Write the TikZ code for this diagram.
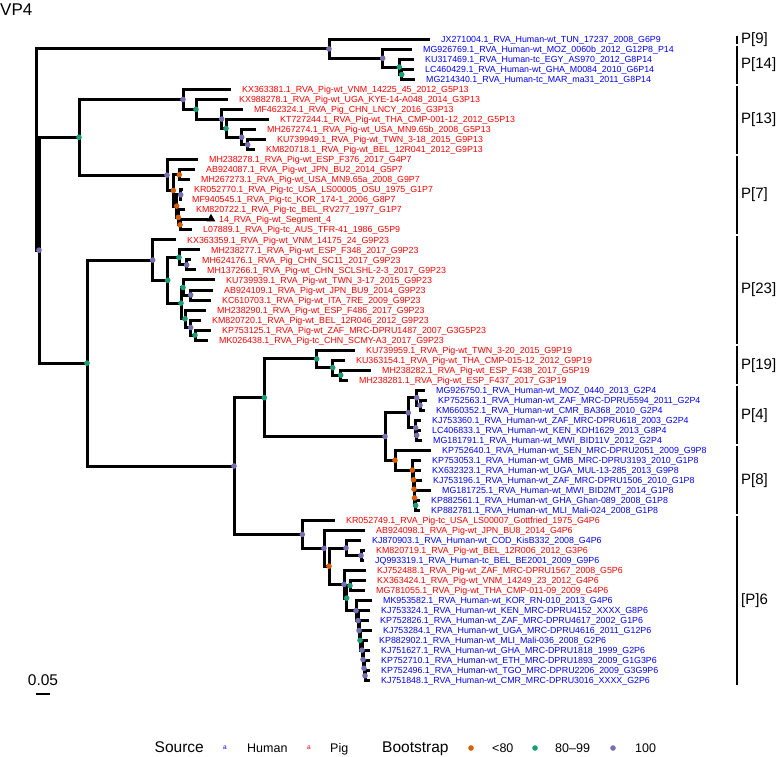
\documentclass[tikz,border=0pt]{standalone}
\usepackage{fontspec}
\setmainfont{Liberation Sans}
\usetikzlibrary{calc, shapes.geometric}
\definecolor{bslow}{HTML}{D95F02}
\definecolor{bsmid}{HTML}{1B9E77}
\definecolor{bshigh}{HTML}{7570B3}
\colorlet{human}{blue}
\colorlet{pig}{red}

\tikzset{
  branch/.style={line width=3pt, black},
  tiplab/.style={anchor=base west, inner sep=0pt, font=\fontsize{8.85}{9}\selectfont},
  cladebar/.style={line width=1.8pt},
  cladelab/.style={anchor=west, inner sep=0pt, font=\fontsize{15}{17}\selectfont},
  legtitle/.style={anchor=base west, inner sep=0pt, font=\fontsize{15.5}{18}\selectfont},
  legitem/.style={anchor=base west, inner sep=0pt, font=\fontsize{12.5}{14}\selectfont},
  legkey/.style={inner sep=0pt, font=\fontsize{6.5}{7}\selectfont},
}

% internal node: name, x, first child, second child
\newcommand{\innode}[4]{%
  \path let \p1=($(#3)!0.5!(#4)$) in coordinate (#1) at (#2pt,\y1);
  \draw[branch] (#1) |- (#3) (#1) |- (#4);
}

\begin{document}
\begin{tikzpicture}[x=1pt, y=-1pt]
    \useasboundingbox (0,0) rectangle (778,756);

    \node[anchor=base west, inner sep=0pt, font=\fontsize{17}{20}\selectfont] (title) at (0,15) {VP4};

    % tips
    \foreach \tx/\col/\lab [count=\i] in {
      430/human/JX271004.1\_RVA\_Human-wt\_TUN\_17237\_2008\_G6P9,
      412/human/MG926769.1\_RVA\_Human-wt\_MOZ\_0060b\_2012\_G12P8\_P14,
      414/human/KU317469.1\_RVA\_Human-tc\_EGY\_AS970\_2012\_G8P14,
      414/human/LC460429.1\_RVA\_Human-wt\_GHA\_M0084\_2010\_G6P14,
      415/human/MG214340.1\_RVA\_Human-tc\_MAR\_ma31\_2011\_G8P14,
      231/pig/KX363381.1\_RVA\_Pig-wt\_VNM\_14225\_45\_2012\_G5P13,
      228/pig/KX988278.1\_RVA\_Pig-wt\_UGA\_KYE-14-A048\_2014\_G3P13,
      243/pig/MF462324.1\_RVA\_Pig\_CHN\_LNCY\_2016\_G3P13,
      269/pig/KT727244.1\_RVA\_Pig-wt\_THA\_CMP-001-12\_2012\_G5P13,
      256/pig/MH267274.1\_RVA\_Pig-wt\_USA\_MN9.65b\_2008\_G5P13,
      266/pig/KU739949.1\_RVA\_Pig-wt\_TWN\_3-18\_2015\_G9P13,
      255/pig/KM820718.1\_RVA\_Pig-wt\_BEL\_12R041\_2012\_G9P13,
      198/pig/MH238278.1\_RVA\_Pig-wt\_ESP\_F376\_2017\_G4P7,
      195/pig/AB924087.1\_RVA\_Pig-wt\_JPN\_BU2\_2014\_G5P7,
      190/pig/MH267273.1\_RVA\_Pig-wt\_USA\_MN9.65a\_2008\_G9P7,
      183/pig/KR052770.1\_RVA\_Pig-tc\_USA\_LS00005\_OSU\_1975\_G1P7,
      181/pig/MF940545.1\_RVA\_Pig-tc\_KOR\_174-1\_2006\_G8P7,
      185/pig/KM820722.1\_RVA\_Pig-tc\_BEL\_RV277\_1977\_G1P7,
      208/pig/14\_RVA\_Pig-wt\_Segment\_4,
      192/pig/L07889.1\_RVA\_Pig-tc\_AUS\_TFR-41\_1986\_G5P9,
      176/pig/KX363359.1\_RVA\_Pig-wt\_VNM\_14175\_24\_G9P23,
      200/pig/MH238277.1\_RVA\_Pig-wt\_ESP\_F348\_2017\_G9P23,
      191/pig/MH624176.1\_RVA\_Pig\_CHN\_SC11\_2017\_G9P23,
      196/pig/MH137266.1\_RVA\_Pig-wt\_CHN\_SCLSHL-2-3\_2017\_G9P23,
      215/pig/KU739939.1\_RVA\_Pig-wt\_TWN\_3-17\_2015\_G9P23,
      213/pig/AB924109.1\_RVA\_Pig-wt\_JPN\_BU9\_2014\_G9P23,
      211/pig/KC610703.1\_RVA\_Pig-wt\_ITA\_7RE\_2009\_G9P23,
      206/pig/MH238290.1\_RVA\_Pig-wt\_ESP\_F486\_2017\_G9P23,
      201/pig/KM820720.1\_RVA\_Pig-wt\_BEL\_12R046\_2012\_G9P23,
      211/pig/KP753125.1\_RVA\_Pig-wt\_ZAF\_MRC-DPRU1487\_2007\_G3G5P23,
      208/pig/MK026438.1\_RVA\_Pig-tc\_CHN\_SCMY-A3\_2017\_G9P23,
      355/pig/KU739959.1\_RVA\_Pig-wt\_TWN\_3-20\_2015\_G9P19,
      345/pig/KU363154.1\_RVA\_Pig-wt\_THA\_CMP-015-12\_2012\_G9P19,
      371/pig/MH238282.1\_RVA\_Pig-wt\_ESP\_F438\_2017\_G5P19,
      348/pig/MH238281.1\_RVA\_Pig-wt\_ESP\_F437\_2017\_G3P19,
      425/human/MG926750.1\_RVA\_Human-wt\_MOZ\_0440\_2013\_G2P4,
      427/human/KP752563.1\_RVA\_Human-wt\_ZAF\_MRC-DPRU5594\_2011\_G2P4,
      425/human/KM660352.1\_RVA\_Human-wt\_CMR\_BA368\_2010\_G2P4,
      421/human/KJ753360.1\_RVA\_Human-wt\_ZAF\_MRC-DPRU618\_2003\_G2P4,
      421/human/LC406833.1\_RVA\_Human-wt\_KEN\_KDH1629\_2013\_G8P4,
      422/human/MG181791.1\_RVA\_Human-wt\_MWI\_BID11V\_2012\_G2P4,
      431/human/KP752640.1\_RVA\_Human-wt\_SEN\_MRC-DPRU2051\_2009\_G9P8,
      421/human/KP753053.1\_RVA\_Human-wt\_GMB\_MRC-DPRU3193\_2010\_G1P8,
      421/human/KX632323.1\_RVA\_Human-wt\_UGA\_MUL-13-285\_2013\_G9P8,
      422/human/KJ753196.1\_RVA\_Human-wt\_ZAF\_MRC-DPRU1506\_2010\_G1P8,
      431/human/MG181725.1\_RVA\_Human-wt\_MWI\_BID2MT\_2014\_G1P8,
      420/human/KP882561.1\_RVA\_Human-wt\_GHA\_Ghan-089\_2008\_G1P8,
      420/human/KP882781.1\_RVA\_Human-wt\_MLI\_Mali-024\_2008\_G1P8,
      335/pig/KR052749.1\_RVA\_Pig-tc\_USA\_LS00007\_Gottfried\_1975\_G4P6,
      365/pig/AB924098.1\_RVA\_Pig-wt\_JPN\_BU8\_2014\_G4P6,
      361/human/KJ870903.1\_RVA\_Human-wt\_COD\_KisB332\_2008\_G4P6,
      365/pig/KM820719.1\_RVA\_Pig-wt\_BEL\_12R006\_2012\_G3P6,
      364/human/JQ993319.1\_RVA\_Human-tc\_BEL\_BE2001\_2009\_G9P6,
      366/pig/KJ752488.1\_RVA\_Pig-wt\_ZAF\_MRC-DPRU1567\_2008\_G5P6,
      366/pig/KX363424.1\_RVA\_Pig-wt\_VNM\_14249\_23\_2012\_G4P6,
      365/pig/MG781055.1\_RVA\_Pig-wt\_THA\_CMP-011-09\_2009\_G4P6,
      372/human/MK953582.1\_RVA\_Human-wt\_KOR\_RN-010\_2013\_G4P6,
      370/human/KJ753324.1\_RVA\_Human-wt\_KEN\_MRC-DPRU4152\_XXXX\_G8P6,
      369/human/KP752826.1\_RVA\_Human-wt\_ZAF\_MRC-DPRU4617\_2002\_G1P6,
      372/human/KJ753284.1\_RVA\_Human-wt\_UGA\_MRC-DPRU4616\_2011\_G12P6,
      368/human/KP882902.1\_RVA\_Human-wt\_MLI\_Mali-036\_2008\_G2P6,
      370/human/KJ751627.1\_RVA\_Human-wt\_GHA\_MRC-DPRU1818\_1999\_G2P6,
      370/human/KP752710.1\_RVA\_Human-wt\_ETH\_MRC-DPRU1893\_2009\_G1G3P6,
      370/human/KP752496.1\_RVA\_Human-wt\_TGO\_MRC-DPRU2206\_2009\_G3G9P6,
      370/human/KJ751848.1\_RVA\_Human-wt\_CMR\_MRC-DPRU3016\_XXXX\_G2P6} {
      \coordinate (t\i) at (\tx, {39.5+10.02*(\i-1)});
      \node[tiplab, text=\col] (lab\i) at ([xshift=11pt, yshift=-3.1pt]t\i) {\lab};
    }

    % P[9] and P[14]
    \innode{p14c}{401.7}{t4}{t5}
    \innode{p14b}{399.3}{t3}{p14c}
    \innode{p14a}{382.7}{t2}{p14b}
    \innode{p9x14}{329}{t1}{p14a}
    % P[13]
    \innode{p13f}{247.7}{t11}{t12}
    \innode{p13e}{241.7}{t10}{p13f}
    \innode{p13d}{226}{t9}{p13e}
    \innode{p13c}{221.7}{t8}{p13d}
    \innode{p13b}{196}{t7}{p13c}
    \innode{p13a}{183}{t6}{p13b}
    % P[7]
    \innode{p7g}{180}{t19}{t20}
    \innode{p7f}{178.3}{t18}{p7g}
    \innode{p7e}{180.7}{t16}{t17}
    \innode{p7d}{176.7}{p7e}{p7f}
    \innode{p7c}{179.3}{t14}{t15}
    \innode{p7b}{173.3}{p7c}{p7d}
    \innode{p7a}{167}{t13}{p7b}
    \innode{p13x7}{79}{p13a}{p7a}
    % P[23]
    \innode{p23j}{195}{t30}{t31}
    \innode{p23i}{190.7}{t29}{p23j}
    \innode{p23h}{185}{t28}{p23i}
    \innode{p23g}{190.7}{t26}{t27}
    \innode{p23f}{183}{t25}{p23g}
    \innode{p23e}{181}{p23f}{p23h}
    \innode{p23d}{186.7}{t23}{t24}
    \innode{p23c}{179}{t22}{p23d}
    \innode{p23b}{167.7}{p23c}{p23e}
    \innode{p23a}{152.7}{t21}{p23b}
    % P[19], P[4], P[8]
    \innode{p19c}{340.7}{t34}{t35}
    \innode{p19b}{332.7}{t33}{p19c}
    \innode{p19a}{316.7}{t32}{p19b}
    \innode{p4c}{420}{t37}{t38}
    \innode{p4b}{416.7}{t36}{p4c}
    \innode{p4e}{416.7}{t40}{t41}
    \innode{p4d}{415.7}{t39}{p4e}
    \innode{p4a}{408.3}{p4b}{p4d}
    \innode{p8f}{415.7}{t47}{t48}
    \innode{p8e}{414.5}{t46}{p8f}
    \innode{p8d}{414}{t45}{p8e}
    \innode{p8c}{413.5}{t44}{p8d}
    \innode{p8b}{412.3}{t43}{p8c}
    \innode{p8a}{395}{t42}{p8b}
    \innode{p4x8}{385}{p4a}{p8a}
    \innode{p19x8}{264.3}{p19a}{p4x8}
    % P[6]
    \innode{p6p}{365}{t64}{t65}
    \innode{p6o}{364}{t63}{p6p}
    \innode{p6n}{363}{t62}{p6o}
    \innode{p6m}{362}{t61}{p6n}
    \innode{p6l}{360}{t60}{p6m}
    \innode{p6k}{359}{t59}{p6l}
    \innode{p6j}{358}{t58}{p6k}
    \innode{p6i}{356}{t57}{p6j}
    \innode{p6h}{350}{t55}{t56}
    \innode{p6g}{346.7}{p6h}{p6i}
    \innode{p6f}{344}{t54}{p6g}
    \innode{p6e}{361}{t52}{t53}
    \innode{p6d}{346}{t51}{p6e}
    \innode{p6c}{329}{p6d}{p6f}
    \innode{p6b}{324}{t50}{p6c}
    \innode{p6a}{302.3}{t49}{p6b}
    % backbone
    \innode{p19x6}{234}{p19x8}{p6a}
    \innode{lower}{87}{p23a}{p19x6}
    \innode{ingrp}{39}{p13x7}{lower}
    \innode{root}{36}{p9x14}{ingrp}

    \node[regular polygon, regular polygon sides=3, fill=black, inner sep=0pt, minimum size=10pt] (seg4) at ([xshift=3pt, yshift=1pt]t19) {};

    % bootstrap support
    \foreach \n/\c in {ingrp/bshigh, p9x14/bshigh, p14a/bshigh, p14b/bsmid, p14c/bsmid,
      p13x7/bsmid, p13a/bshigh, p13b/bsmid, p13c/bshigh, p13d/bsmid, p13e/bshigh, p13f/bshigh,
      p7a/bshigh, p7b/bslow, p7c/bslow, p7d/bslow, p7e/bshigh, p7f/bslow, p7g/bslow,
      lower/bsmid, p23a/bshigh, p23b/bsmid, p23c/bsmid, p23d/bshigh, p23e/bsmid, p23f/bsmid,
      p23g/bshigh, p23h/bsmid, p23i/bshigh, p23j/bsmid,
      p19x6/bshigh, p19x8/bsmid, p19a/bsmid, p19b/bsmid, p19c/bsmid,
      p4x8/bshigh, p4a/bshigh, p4b/bshigh, p4c/bshigh, p4d/bshigh, p4e/bshigh,
      p8a/bslow, p8b/bslow, p8c/bslow, p8d/bslow, p8e/bslow, p8f/bsmid,
      p6a/bshigh, p6b/bshigh, p6c/bslow, p6d/bshigh, p6e/bshigh, p6f/bshigh, p6g/bsmid,
      p6h/bsmid, p6i/bshigh, p6j/bshigh, p6k/bshigh, p6l/bsmid, p6m/bshigh, p6n/bshigh,
      p6o/bshigh, p6p/bshigh}
      \fill[\c] (\n) circle (2.8pt);

    % clade bars
    \foreach \a/\b/\lab in {1/1/P[9], 2/5/P[14], 6/12/P[13], 13/20/P[7], 21/31/P[23],
      32/35/P[19], 36/41/P[4], 42/48/P[8], 49/65/[P]6} {
      \draw[cladebar] (737,{39.5+10.02*(\a-1)-4}) -- (737,{39.5+10.02*(\b-1)+4});
      \node[cladelab] (clade\a) at (741,{39.5+10.02*(\a+\b-2)/2}) {\lab};
    }

    % scale bar
    \coordinate (sbl) at (36,694);
    \coordinate (sbr) at (50,694);
    \draw[line width=1.8pt] (sbl) -- (sbr);
    \node[anchor=base, inner sep=0pt, font=\fontsize{15.5}{18}\selectfont] (sblab) at (43,685) {0.05};

    % legend
    \node[legtitle, anchor=base east] (srctitle) at (204,752.5) {Source};
    \node[legkey, text=human] (keyhum) at (225,748) {a};
    \node[legitem] (labhum) at (247,752.5) {Human};
    \node[legkey, text=pig] (keypig) at (309,748) {a};
    \node[legitem] (labpig) at (330,752.5) {Pig};
    \node[legtitle] (bstitle) at (382,752.5) {Bootstrap};
    \fill[bslow] (471,748) circle (2.8pt);
    \node[legitem] (lablow) at (492,752.5) {<80};
    \fill[bsmid] (535,748) circle (2.8pt);
    \node[legitem] (labmid) at (555,752.5) {80--99};
    \fill[bshigh] (613,748) circle (2.8pt);
    \node[legitem] (labhigh) at (635,752.5) {100};
\end{tikzpicture}
\end{document}
